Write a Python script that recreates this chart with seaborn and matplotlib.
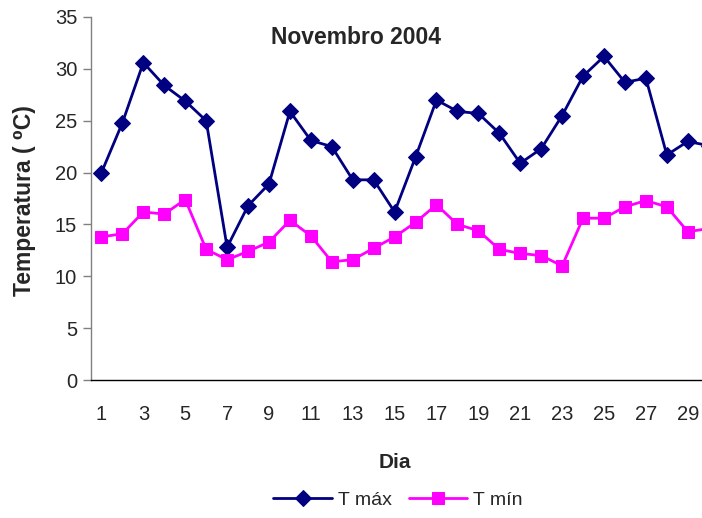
import matplotlib
matplotlib.use("Agg")
import matplotlib.pyplot as plt
import numpy as np
import pandas as pd
import seaborn as sns

# Daily data, November 2004
dias = list(range(1, 31))
t_max = [20.0, 24.8, 30.6, 28.4, 26.9, 25.0, 12.8, 16.8, 18.9, 25.9,
         23.1, 22.5, 19.3, 19.3, 16.2, 21.5, 27.0, 25.9, 25.7, 23.8,
         20.9, 22.3, 25.5, 29.3, 31.2, 28.7, 29.1, 21.7, 23.0, 22.6]
t_min = [13.8, 14.1, 16.2, 16.0, 17.4, 12.6, 11.6, 12.4, 13.3, 15.4,
         13.9, 11.4, 11.6, 12.7, 13.8, 15.2, 16.9, 15.0, 14.4, 12.6,
         12.2, 12.0, 11.0, 15.6, 15.6, 16.7, 17.3, 16.7, 14.3, 14.6]
x_labels = [str(d) for d in range(1, 30, 2)]
y_ticks = [0, 5, 10, 15, 20, 25, 30, 35]

df = pd.DataFrame({"Dia": dias, "T máx": t_max, "T mín": t_min})

sns.set_style("white")
plt.rcParams["font.family"] = ["Liberation Sans", "DejaVu Sans"]

fig = plt.figure(figsize=(7.02, 5.18), dpi=100)
ax = fig.add_axes([91 / 702, 138 / 518, 611 / 702, 363 / 518])

sns.lineplot(data=df, x="Dia", y="T máx", ax=ax, color="#000080", marker="D",
             markersize=8, markeredgecolor="#000080", linewidth=2, label="T máx")
sns.lineplot(data=df, x="Dia", y="T mín", ax=ax, color="#FF00FF", marker="s",
             markersize=9, markeredgecolor="#FF00FF", linewidth=2, label="T mín")

ax.set_xlim(0.5, 29.68)
ax.set_ylim(0, 35)

ax.set_xticks(range(1, 30, 2))
ax.set_xticklabels(x_labels, fontsize=14.5)
ax.set_xticks(np.arange(0.5, 29, 1), minor=True)
ax.tick_params(axis="x", which="major", length=0, pad=18)
ax.tick_params(axis="x", which="minor", length=6, width=1, color="black", direction="out")
ax.set_yticks(y_ticks)
ax.set_yticklabels([str(v) for v in y_ticks], fontsize=14.5)
ax.tick_params(axis="y", length=6, width=1, color="#808080", direction="out", pad=4, left=True)

for side in ["top", "right"]:
    ax.spines[side].set_visible(False)
ax.spines["left"].set_color("#808080")
ax.spines["bottom"].set_color("black")
ax.spines["left"].set_linewidth(1)
ax.spines["bottom"].set_linewidth(1)
ax.grid(False)

ax.set_xlabel("Dia", fontsize=15, fontweight="bold")
ax.xaxis.set_label_coords((395 - 91) / 611, (380 - 453) / 363)
ax.set_ylabel("Temperatura ( ⁰C)", fontsize=16.5, fontweight="bold")
ax.yaxis.set_label_coords((36 - 91) / 611, (380 - 201) / 363)

fig.text(356 / 702, 1 - 38 / 518, "Novembro 2004", ha="center", va="center",
         fontsize=16.5, fontweight="bold")

handles, labels = ax.get_legend_handles_labels()
ax.get_legend().remove()
fig.legend(handles, labels, loc="center", bbox_to_anchor=(398 / 702, 1 - 500 / 518),
           ncol=2, frameon=False, fontsize=14, handlelength=3.0, handletextpad=0.3,
           columnspacing=0.9, numpoints=1)

fig.savefig("out.png", dpi=100)
